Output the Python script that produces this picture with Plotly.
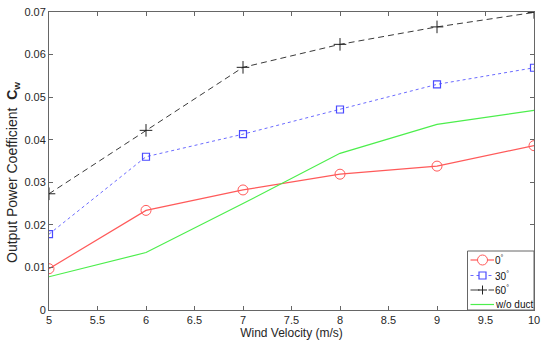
import plotly.graph_objects as go

wind = [5, 6, 7, 8, 9, 10]
cw_0 = [0.0097, 0.0234, 0.0282, 0.0319, 0.0338, 0.0386]
cw_30 = [0.0178, 0.0360, 0.0413, 0.0471, 0.0530, 0.0569]
cw_60 = [0.0273, 0.0422, 0.0570, 0.0624, 0.0665, 0.0699]
cw_noduct = [0.0078, 0.0135, 0.0250, 0.0368, 0.0436, 0.0469]

series_names = ["0<sup>°</sup>", "30<sup>°</sup>", "60<sup>°</sup>", "w/o duct"]

x_ticks = [5, 5.5, 6, 6.5, 7, 7.5, 8, 8.5, 9, 9.5, 10]
y_ticks = [0, 0.01, 0.02, 0.03, 0.04, 0.05, 0.06, 0.07]
y_labels = ["0", "0.01", "0.02", "0.03", "0.04", "0.05", "0.06", "0.07"]

FONT = "Liberation Sans, Arial"
RED, BLUE, BLUE_M, BLACK, GREEN = "#ff5a5a", "#6b6bff", "#4b4bff", "#3a3a3a", "#4cee4c"

fig = go.Figure()
fig.add_trace(go.Scatter(x=wind, y=cw_0, name=series_names[0], mode="lines+markers",
                         line=dict(color=RED, width=1.2),
                         marker=dict(symbol="circle-open", size=10, color=RED, line=dict(width=1))))
fig.add_trace(go.Scatter(x=wind, y=cw_30, name=series_names[1], mode="lines+markers",
                         line=dict(color=BLUE, width=1, dash="dot"),
                         marker=dict(symbol="square-open", size=7, color=BLUE_M, line=dict(width=1.2))))
fig.add_trace(go.Scatter(x=wind, y=cw_60, name=series_names[2], mode="lines+markers",
                         line=dict(color=BLACK, width=1, dash="6px,4px"),
                         marker=dict(symbol="cross-thin-open", size=9, color="#222222", line=dict(width=1, color="#222222"))))
fig.add_trace(go.Scatter(x=wind, y=cw_noduct, name=series_names[3], mode="lines",
                         line=dict(color=GREEN, width=1.2)))

axis_common = dict(showline=True, linecolor="#666666", linewidth=1, mirror="ticks",
                   ticks="inside", ticklen=4, tickcolor="#666666", showgrid=False, zeroline=False,
                   automargin=False,
                   tickfont=dict(family=FONT, size=11, color="#262626"))

fig.update_xaxes(range=[5, 10], tickvals=x_ticks, ticktext=[f"{t:g}" for t in x_ticks],
                 title=dict(text="Wind Velocity (m/s)", font=dict(family=FONT, size=12, color="#262626"), standoff=2),
                 **axis_common)
fig.update_yaxes(range=[0, 0.07], tickvals=y_ticks, ticktext=y_labels, **axis_common)

# ---- layout geometry helpers (paper coordinates from pixels) ----
L, R, T, B = 49, 16, 12, 41
W, H = 550, 351
PW, PH = W - L - R, H - T - B
def px(x):
    return (x - L) / PW
def py(y):
    return (H - B - y) / PH

annotations = [dict(xref="paper", yref="paper", x=px(13), y=py(173), textangle=-90,
                    text="Output Power Coefficient  <b>C<sub>w</sub></b>", showarrow=False,
                    xanchor="center", yanchor="middle",
                    font=dict(family=FONT, size=14, color="#262626"))]

# ---- compact legend box ----
shapes = [dict(type="rect", xref="paper", yref="paper", x0=px(467.5), x1=px(534), y0=py(310), y1=py(251),
               fillcolor="white", line=dict(color="#666666", width=1), layer="above")]
rows = [260, 275.5, 290, 304.5]
styles = [(RED, "solid", 1.2), (BLUE, "dot", 1), (BLACK, "dash", 1), (GREEN, "solid", 1.2)]
for i, (ry, (col, dash, w)) in enumerate(zip(rows, styles)):
    shapes.append(dict(type="line", xref="paper", yref="paper", x0=px(470.5), x1=px(494), y0=py(ry), y1=py(ry),
                       line=dict(color=col, width=w, dash=dash), layer="above"))
    annotations.append(dict(xref="paper", yref="paper", x=px(493), y=py(ry), text=series_names[i],
                            showarrow=False, xanchor="left", yanchor="middle",
                            font=dict(family=FONT, size=10, color="#111111")))
cx = 482.5
shapes.append(dict(type="circle", xref="paper", yref="paper", x0=px(cx - 5), x1=px(cx + 5),
                   y0=py(rows[0] + 5), y1=py(rows[0] - 5), fillcolor="white", line=dict(color=RED, width=1), layer="above"))
shapes.append(dict(type="rect", xref="paper", yref="paper", x0=px(cx - 3.5), x1=px(cx + 3.5),
                   y0=py(rows[1] + 3.5), y1=py(rows[1] - 3.5), fillcolor="white", line=dict(color=BLUE_M, width=1.2), layer="above"))
shapes.append(dict(type="line", xref="paper", yref="paper", x0=px(cx - 4.5), x1=px(cx + 4.5),
                   y0=py(rows[2]), y1=py(rows[2]), line=dict(color="#222222", width=1), layer="above"))
shapes.append(dict(type="line", xref="paper", yref="paper", x0=px(cx), x1=px(cx),
                   y0=py(rows[2] + 4.5), y1=py(rows[2] - 4.5), line=dict(color="#222222", width=1), layer="above"))

fig.update_layout(
    width=W, height=H,
    margin=dict(l=L, r=R, t=T, b=B),
    paper_bgcolor="white", plot_bgcolor="white",
    showlegend=False,
    shapes=shapes, annotations=annotations,
)

fig.write_html("out.html", config={"displayModeBar": False},
               post_script="document.body.style.margin='0';document.body.style.overflow='hidden';")
